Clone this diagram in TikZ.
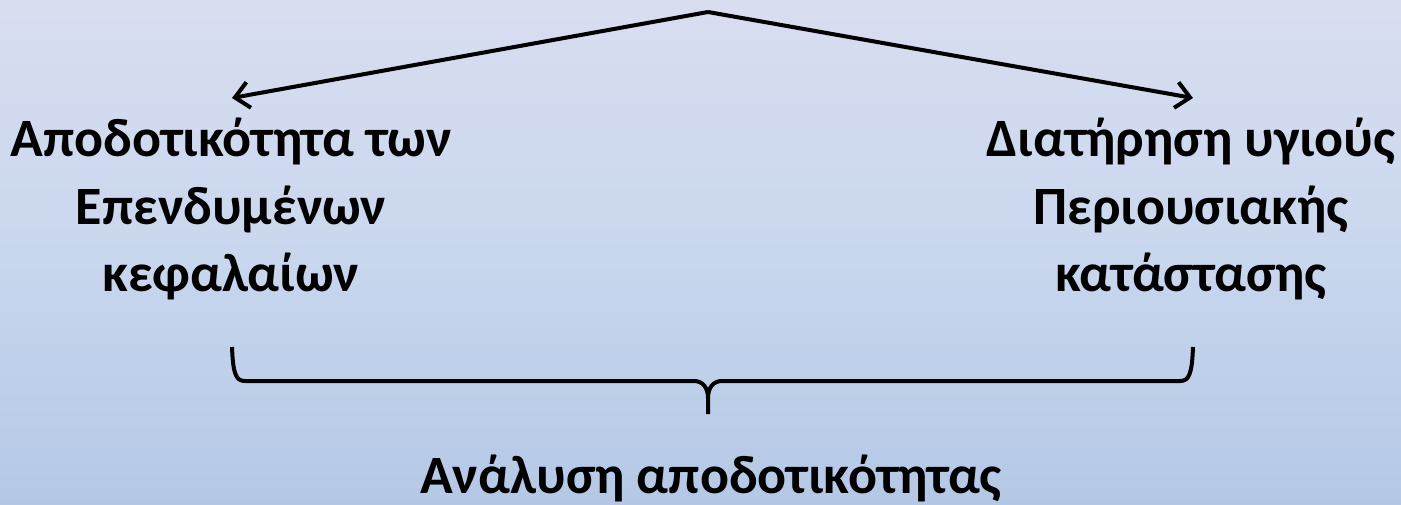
\documentclass[tikz,border=0pt]{standalone}
\usepackage{fontspec}
\setmainfont{Carlito}
\usetikzlibrary{arrows.meta}
\definecolor{bgtop}{HTML}{D9DDF0}
\definecolor{bgmid}{HTML}{C9D7EE}
\definecolor{bgbot}{HTML}{B4C8E6}
\tikzset{
  lbl/.style={font=\fontsize{54}{67.5}\selectfont\bfseries, align=center, inner sep=0pt},
  conn/.style={line width=4pt, -{Straight Barb[length=14pt,width=26pt,line width=4pt]}},
  brace/.style={line width=4pt}
}
\begin{document}
\begin{tikzpicture}[x=1pt,y=-1pt]
\useasboundingbox (0,0) rectangle (1401,504);
\shade[top color=bgtop, bottom color=bgbot, middle color=bgmid] (0,0) rectangle (1401,504);
\coordinate (apex) at (708,12);
\coordinate (lend) at (232,98);
\coordinate (rend) at (1193,98);
\node[lbl] (left) at (231,209) {Αποδοτικότητα των\\Επενδυμένων\\κεφαλαίων};
\node[lbl] (right) at (1191,209) {Διατήρηση υγιούς\\Περιουσιακής\\κατάστασης};
\node[lbl] (bottom) at (711,478) {Ανάλυση αποδοτικότητας};
\draw[conn] (apex) -- (lend);
\draw[conn] (apex) -- (rend);
\coordinate (bl) at (232,347);
\coordinate (br) at (1193,347);
\coordinate (bt) at (708,414);
\draw[brace, line join=round] (bl) .. controls (233,374) and (236,381) .. (245,381) -- (694,381)
  .. controls (703,381) and (708,388) .. (708,398) -- (bt);
\draw[brace, line join=round] (708,398) .. controls (708,388) and (713,381) .. (722,381) -- (1180,381)
  .. controls (1189,381) and (1192,374) .. (br);
\end{tikzpicture}
\end{document}
